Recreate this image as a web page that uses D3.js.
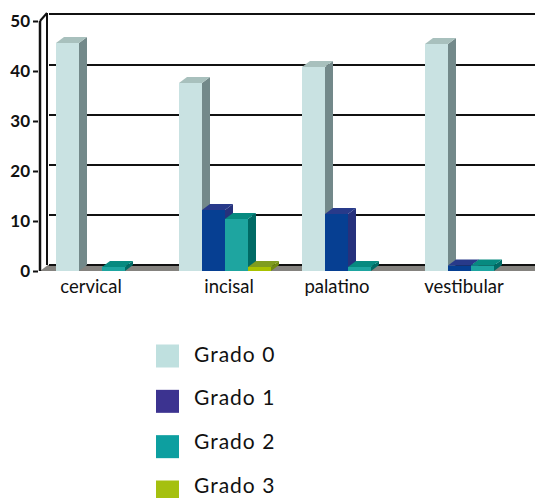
<!DOCTYPE html>
<html>
<head>
<meta charset="utf-8">
<script src="https://cdn.jsdelivr.net/npm/d3@7"></script>
<style>
  html, body { margin: 0; padding: 0; background: #fff; overflow: hidden; }
  text { font-family: Lato, sans-serif; fill: #111; }
</style>
</head>
<body>
<div id="chart"></div>
<script>
var categories = ["cervical", "incisal", "palatino", "vestibular"];
var series = ["Grado 0", "Grado 1", "Grado 2", "Grado 3"];
var grado0 = [45.6, 37.6, 40.8, 45.4];
var grado1 = [0, 12.2, 11.4, 1.1];
var grado2 = [0.8, 10.4, 0.8, 1.1];
var grado3 = [0, 0.8, 0, 0];
var yTicks = [0, 10, 20, 30, 40, 50];

var frontColors = ["#c9e2e2", "#063f92", "#1ea5a0", "#a8c200"];
var sideColors = ["#73898a", "#26317c", "#006a65", "#6f8a12"];
var topColors = ["#a8c0bd", "#283a8a", "#078a80", "#7f9c1f"];
var legendColors = ["#bfe0df", "#3c3390", "#0d9fa0", "#a5c00f"];

var width = 535, height = 498;
var depth_x = 8, depth_y = 6;

var svg = d3.select("#chart")
    .append("svg")
    .attr("width", width)
    .attr("height", height);

var x0 = d3.scaleBand()
    .domain(categories)
    .range([56, 517])
    .paddingInner(0.252)
    .paddingOuter(0)
    .align(0);

var x1 = d3.scaleBand()
    .domain(series)
    .range([0, x0.bandwidth()]);

var y = d3.scaleLinear()
    .domain([0, 50])
    .range([271, 21]);

// back wall: top edge and grid lines, sitting one depth step up and right
svg.selectAll("line.grid")
    .data(yTicks.slice(1))
    .enter()
    .append("line")
    .attr("class", "grid")
    .attr("x1", 49)
    .attr("x2", width)
    .attr("y1", function (d) { return y(d) - depth_y - (d == 50 ? 1 : 0); })
    .attr("y2", function (d) { return y(d) - depth_y - (d == 50 ? 1 : 0); })
    .attr("stroke", "#111")
    .attr("stroke-width", 2);

// floor
svg.append("path")
    .attr("d", d3.line()([
        [40, y(0)],
        [40 + depth_x, y(0) - depth_y],
        [width, y(0) - depth_y],
        [width, y(0)]
    ]) + "Z")
    .style("fill", "#85837f");

svg.append("line")
    .attr("x1", 49)
    .attr("x2", width)
    .attr("y1", y(0) - depth_y)
    .attr("y2", y(0) - depth_y)
    .attr("stroke", "#111")
    .attr("stroke-width", 2);

// axis walls
svg.append("line")
    .attr("x1", 47).attr("x2", 47)
    .attr("y1", y(50) - depth_y - 2).attr("y2", y(0) - depth_y)
    .attr("stroke", "#111").attr("stroke-width", 2);

svg.append("line")
    .attr("x1", 47).attr("x2", 40)
    .attr("y1", y(50) - depth_y - 2).attr("y2", y(50))
    .attr("stroke", "#111").attr("stroke-width", 2);

var yAxis = d3.axisLeft(y)
    .tickValues(yTicks)
    .tickSize(5)
    .tickPadding(5);

var axisG = svg.append("g")
    .attr("transform", "translate(40,0)")
    .call(yAxis);

axisG.select(".domain")
    .attr("stroke", "#111")
    .attr("stroke-width", 2.5)
    .attr("d", "M0," + y(50) + "V" + y(0));

axisG.selectAll(".tick line")
    .attr("stroke", "#111")
    .attr("stroke-width", 2)
    .attr("x1", -2)
    .attr("x2", -7);

axisG.selectAll(".tick text")
    .style("font-size", "17px")
    .style("font-weight", "700");

// 3d bars, drawn left to right so each one covers its neighbour's side
var values = [grado0, grado1, grado2, grado3];

categories.forEach(function (cat, i) {
    series.forEach(function (name, s) {
        var v = values[s][i];
        if (!v) return;
        var left = x0(cat) + x1(name);
        var right = left + x1.bandwidth();
        var top = y(v);
        var bottom = y(0);

        svg.append("rect")
            .attr("class", "bar_front")
            .attr("x", left)
            .attr("y", top)
            .attr("width", x1.bandwidth())
            .attr("height", bottom - top)
            .style("fill", frontColors[s]);

        svg.append("path")
            .attr("class", "bar_side")
            .attr("d", d3.line()([
                [right, top],
                [right + depth_x, top - depth_y],
                [right + depth_x, bottom - depth_y],
                [right, bottom]
            ]) + "Z")
            .style("fill", sideColors[s]);

        svg.append("path")
            .attr("class", "bar_top")
            .attr("d", d3.line()([
                [left, top],
                [left + depth_x, top - depth_y],
                [right + depth_x, top - depth_y],
                [right, top]
            ]) + "Z")
            .style("fill", topColors[s]);
    });
});

// category labels
var labelX = d3.scaleOrdinal()
    .domain(categories)
    .range([91, 229, 337, 464]);

svg.selectAll("text.cat")
    .data(categories)
    .enter()
    .append("text")
    .attr("class", "cat")
    .attr("x", function (d) { return labelX(d); })
    .attr("y", 293)
    .style("text-anchor", "middle")
    .style("font-size", "18.5px")
    .text(function (d) { return d; });

// legend
var legendY = d3.scalePoint()
    .domain(series)
    .range([356, 492]);

// text step is a bit tighter than the swatches so the last label stays on the page
var legendTextY = d3.scalePoint()
    .domain(series)
    .range([361.5, 493]);

svg.selectAll("rect.legend")
    .data(series)
    .enter()
    .append("rect")
    .attr("class", "legend")
    .attr("x", 156)
    .attr("y", function (d) { return legendY(d) - 11.5; })
    .attr("width", 23)
    .attr("height", 23)
    .style("fill", function (d, i) { return legendColors[i]; });

svg.selectAll("text.legend")
    .data(series)
    .enter()
    .append("text")
    .attr("class", "legend")
    .attr("x", 194)
    .attr("y", function (d) { return legendTextY(d); })
    .style("font-size", "21px")
    .style("letter-spacing", "1px")
    .text(function (d) { return d; });
</script>
</body>
</html>
